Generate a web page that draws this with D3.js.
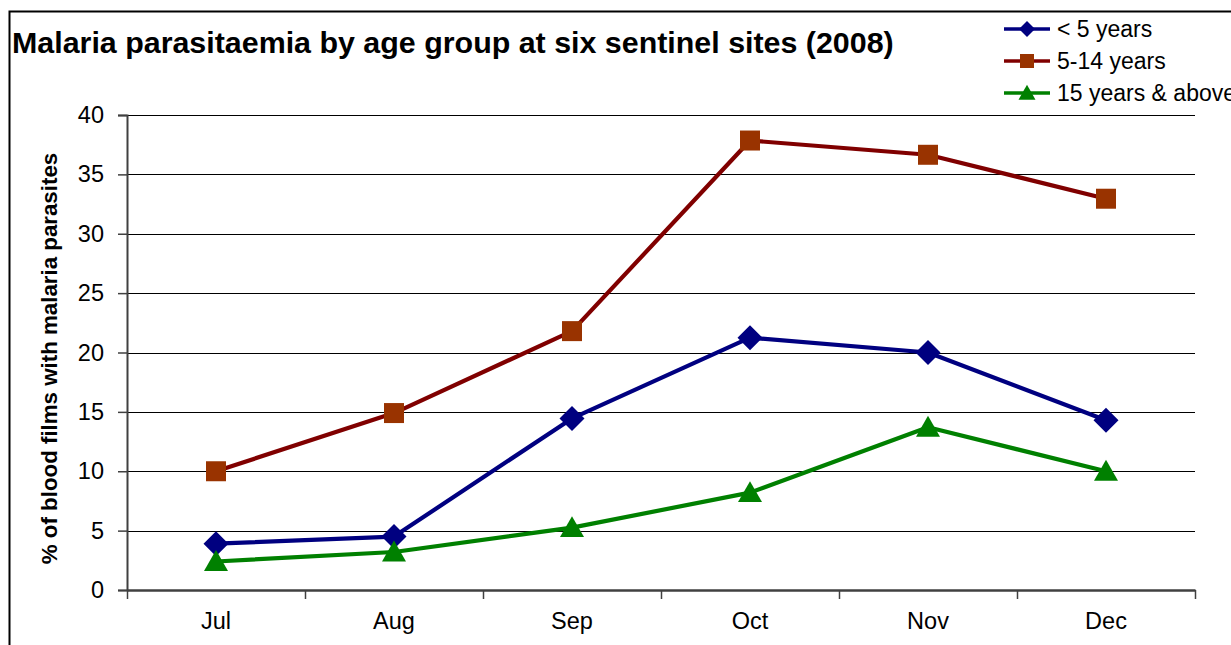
<!DOCTYPE html>
<html><head><meta charset="utf-8">
<script src="https://cdn.jsdelivr.net/npm/d3@7"></script>
<style>
html,body{margin:0;padding:0;background:#fff;}
svg{display:block;font-family:"Liberation Sans",Arial,sans-serif;}
</style></head>
<body>
<svg id="chart" width="1231" height="645"></svg>
<script>
const months = ["Jul","Aug","Sep","Oct","Nov","Dec"];
const under5 = [3.9, 4.5, 14.45, 21.25, 20.0, 14.3];
const age5to14 = [10.0, 14.9, 21.8, 37.85, 36.65, 32.95];
const age15plus = [2.4, 3.2, 5.25, 8.2, 13.7, 10.0];
const seriesNames = ["< 5 years","5-14 years","15 years & above"];
const yTicks = [0,5,10,15,20,25,30,35,40];

const series = [
  {name: seriesNames[0], values: under5, line: "#000080", fill: "#000080", shape: "diamond"},
  {name: seriesNames[1], values: age5to14, line: "#800000", fill: "#993300", shape: "square"},
  {name: seriesNames[2], values: age15plus, line: "#008000", fill: "#008000", shape: "triangle"}
];

const svg = d3.select("#chart");
const plot = {left: 127, right: 1195, top: 115, bottom: 590};
const FONT = "Liberation Sans, Arial, sans-serif";

const x = d3.scaleBand().domain(months).range([plot.left, plot.right]).padding(0);
const y = d3.scaleLinear().domain([0, 40]).range([plot.bottom, plot.top]);

// outer frame (partially visible)
svg.append("path").attr("d", "M9.5,645 V11.5 H1231").attr("fill","none").attr("stroke","#000").attr("stroke-width",2);

// title
svg.append("text").attr("x", 12).attr("y", 53)
  .attr("font-size", 30.4).attr("font-weight", "bold").attr("fill", "#000")
  .text("Malaria parasitaemia by age group at six sentinel sites (2008)");

// gridlines
svg.append("g").selectAll("line").data(yTicks.filter(d => d > 0)).join("line")
  .attr("x1", plot.left).attr("x2", plot.right)
  .attr("y1", d => Math.round(y(d)) + 0.5).attr("y2", d => Math.round(y(d)) + 0.5)
  .attr("stroke", "#000").attr("stroke-width", 1);

// y axis
const yAxis = d3.axisLeft(y).tickValues(yTicks).tickSize(9).tickPadding(14);
const gy = svg.append("g").attr("transform", `translate(${plot.left},0)`).call(yAxis);
gy.attr("font-size", null).attr("font-family", null);
gy.select(".domain").attr("stroke", "#404040").attr("stroke-width", 2);
gy.selectAll(".tick line").attr("stroke", "#404040").attr("stroke-width", 1.5);
gy.selectAll(".tick text").style("font-size", "23.5px").attr("fill", "#000").style("font-family", FONT);

// x axis with ticks at band boundaries
const xAxis = d3.axisBottom(x).tickSize(0).tickPadding(22);
const gx = svg.append("g").attr("transform", `translate(0,${plot.bottom})`).call(xAxis);
gx.attr("font-size", null).attr("font-family", null);
gx.select(".domain").attr("stroke", "#404040").attr("stroke-width", 2.5);
gx.selectAll(".tick text").style("font-size", "23.5px").attr("fill", "#000").style("font-family", FONT);
const bounds = months.map(m => x(m)).concat([x(months[months.length-1]) + x.bandwidth()]);
svg.append("g").selectAll("line").data(bounds).join("line")
  .attr("x1", d => Math.round(d)+0.5).attr("x2", d => Math.round(d)+0.5)
  .attr("y1", plot.bottom).attr("y2", plot.bottom + 9)
  .attr("stroke", "#404040").attr("stroke-width", 1.5);

// y axis title
svg.append("text")
  .attr("transform", `translate(57,${(plot.top+plot.bottom)/2 + 6}) rotate(-90)`)
  .attr("text-anchor", "middle").attr("font-size", 22.3).attr("font-weight", "bold")
  .text("% of blood films with malaria parasites");

function markerPath(shape, s) {
  if (shape === "square") return `M${-s/2},${-s/2}h${s}v${s}h${-s}Z`;
  if (shape === "diamond") return `M0,${-s/2}L${s/2},0L0,${s/2}L${-s/2},0Z`;
  const h = s * 0.87;
  return `M0,${-h*0.55}L${s/2},${h*0.45}L${-s/2},${h*0.45}Z`;
}
const markerSize = {square: 20, diamond: 25, triangle: 24};

const cx = m => x(m) + x.bandwidth()/2;
const line = d3.line().x((d,i) => cx(months[i])).y(d => y(d));

series.forEach(s => {
  const g = svg.append("g");
  g.append("path").datum(s.values).attr("d", line)
    .attr("fill", "none").attr("stroke", s.line).attr("stroke-width", 4.2).attr("stroke-linejoin", "round");
  g.selectAll("path.m").data(s.values).join("path").attr("class", "m")
    .attr("transform", (d,i) => `translate(${cx(months[i])},${y(d)})`)
    .attr("d", markerPath(s.shape, markerSize[s.shape]))
    .attr("fill", s.fill);
});

// legend
const legend = svg.append("g");
series.forEach((s, i) => {
  const ly = 29 + i * 32;
  legend.append("line").attr("x1", 1004).attr("x2", 1050).attr("y1", ly).attr("y2", ly)
    .attr("stroke", s.line).attr("stroke-width", 3.5);
  const ms = {square: 14, diamond: 16, triangle: 17}[s.shape];
  legend.append("path").attr("transform", `translate(1027,${ly})`)
    .attr("d", markerPath(s.shape, ms)).attr("fill", s.fill);
  legend.append("text").attr("x", 1057).attr("y", ly + 8).attr("font-size", 23).text(s.name);
});
</script>
</body></html>
